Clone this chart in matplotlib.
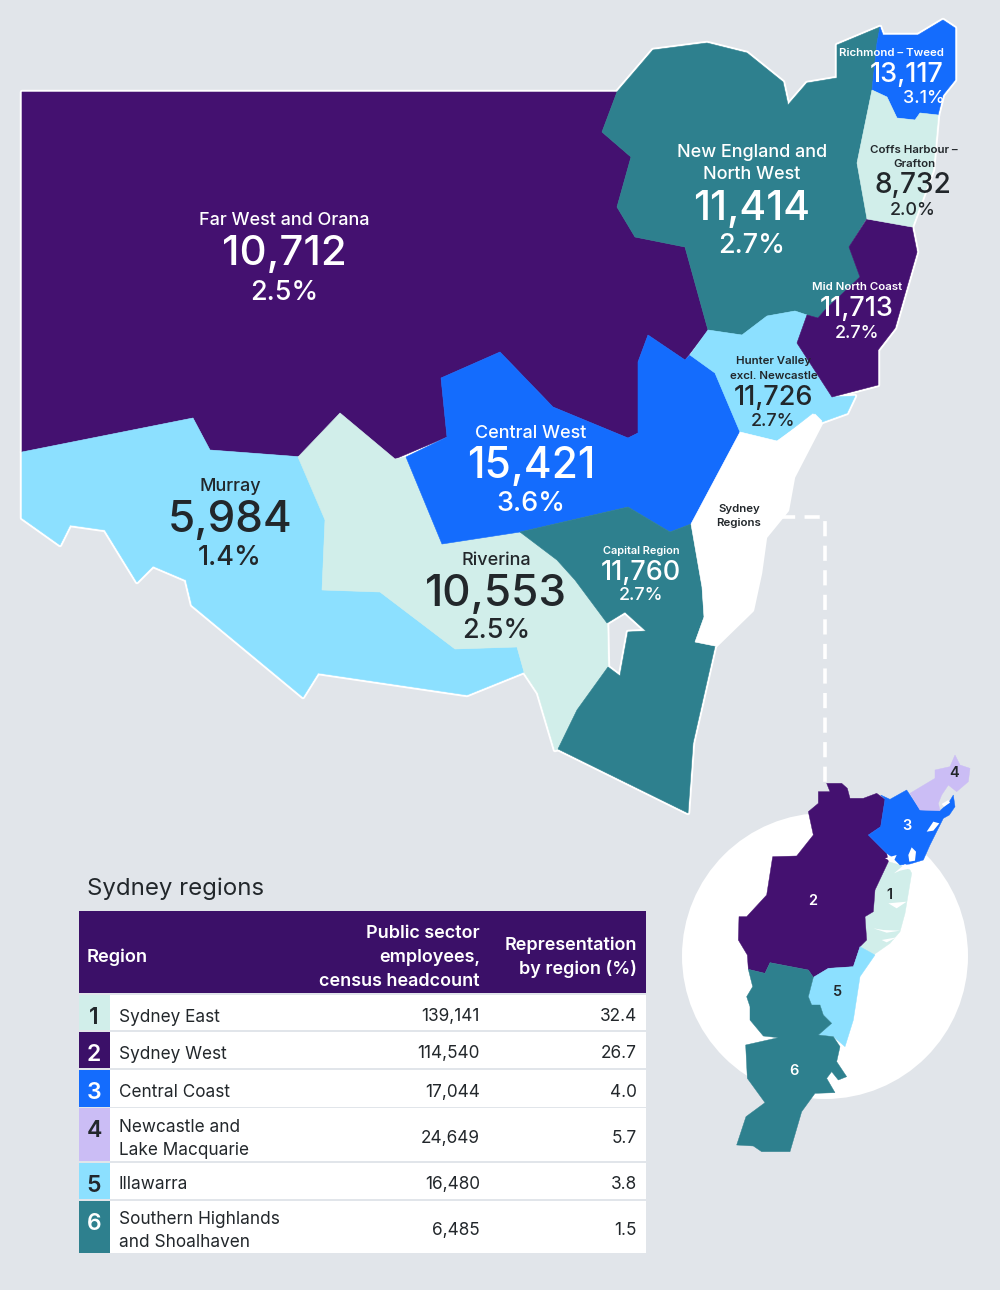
import matplotlib
matplotlib.use("Agg")
import matplotlib.pyplot as plt
from matplotlib.patches import Polygon, Rectangle, Circle

plt.rcParams['font.family'] = ['Inter', 'DejaVu Sans']

BG = '#E1E5EA'; PURPLE = '#441170'; BLUE = '#146CFD'; TEAL = '#2E808E'
MINT = '#D1EEEA'; SKY = '#8CE0FF'; LILAC = '#CBBDF5'; HEAD = '#3B1068'; INK = '#22272B'

# ---- data ----
region_names = ['Far West and Orana', 'Murray', 'Central West', 'Riverina', 'Capital Region',
                'New England and\nNorth West', 'Richmond – Tweed', 'Coffs Harbour –\nGrafton',
                'Mid North Coast', 'Hunter Valley\nexcl. Newcastle']
region_values = ['10,712', '5,984', '15,421', '10,553', '11,760', '11,414', '13,117', '8,732', '11,713', '11,726']
region_shares = ['2.5%', '1.4%', '3.6%', '2.5%', '2.7%', '2.7%', '3.1%', '2.0%', '2.7%', '2.7%']

sydney_ids = ['1', '2', '3', '4', '5', '6']
sydney_names = ['Sydney East', 'Sydney West', 'Central Coast', 'Newcastle and\nLake Macquarie',
                'Illawarra', 'Southern Highlands\nand Shoalhaven']
sydney_values = ['139,141', '114,540', '17,044', '24,649', '16,480', '6,485']
sydney_shares = ['32.4', '26.7', '4.0', '5.7', '3.8', '1.5']
sydney_colors = [MINT, HEAD, BLUE, LILAC, SKY, TEAL]
sydney_num_colors = [INK, 'white', 'white', INK, INK, 'white']

# ---- region outlines (geography, in picture pixels) ----
far_west = [(22,92),(617,92),(602,132),(631,157),(617,207),(635,237),(685,247),(708,330),(685,360),(648,335),
            (638,362),(638,433),(628,438),(553,407),(500,352),(441,378),(447,437),(395,459),(340,413),(303,457),
            (210,450),(193,418),(22,452)]
new_england = [(617,92),(653,50),(707,43),(747,53),(783,82),(788,105),(807,83),(837,78),(837,45),(880,27),(877,43),
               (872,90),(857,163),(867,218),(849,247),(860,277),(825,310),(818,318),(807,315),(795,311),(767,316),
               (742,335),(708,330),(685,247),(635,237),(617,207),(631,157),(602,132)]
central_west = [(500,352),(441,378),(447,437),(406,457),(442,544),(520,532),(628,507),(670,532),(691,524),(740,432),
                (715,373),(690,355),(685,360),(648,335),(638,362),(638,433),(628,438),(553,407)]
hunter = [(708,330),(742,335),(767,316),(795,311),(807,315),(797,343),(832,397),(855,396),(847,413),(822,422),
          (813,413),(777,441),(740,432),(715,373),(690,355)]
mid_north = [(867,219),(912,227),(917,252),(895,328),(878,350),(878,385),(832,397),(797,343),(807,315),(818,318),
             (825,310),(860,277),(849,247)]
richmond = [(880,27),(883,35),(918,35),(943,20),(955,28),(955,80),(943,95),(938,115),(920,113),(915,120),(897,118),
            (887,97),(872,90),(877,43)]
coffs = [(872,90),(887,97),(897,118),(915,120),(920,113),(938,115),(933,170),(912,227),(867,219),(857,163)]
sydney_reg = [(740,432),(777,441),(815,414),(822,421),(793,477),(787,510),(765,537),(760,573),(752,610),(715,646),
              (695,642),(704,617),(702,587),(691,524)]
capital = [(520,532),(628,507),(670,532),(691,524),(702,587),(704,617),(695,642),(715,646),(693,743),(688,813),
           (558,749),(577,710),(608,667),(620,676),(628,632),(646,631),(625,612),(607,623),(575,580),(557,560)]
riverina = [(340,413),(395,459),(406,457),(442,544),(520,532),(557,560),(575,580),(607,623),(608,667),(577,710),
            (558,749),(555,750),(538,693),(524,672),(517,647),(455,649),(380,592),(322,590),(325,520),(298,457)]
murray = [(22,452),(193,418),(210,450),(303,457),(325,520),(322,590),(380,592),(455,649),(517,647),(524,672),(467,695),
          (318,673),(303,697),(192,605),(186,580),(153,566),(137,582),(105,530),(70,525),(60,545),(22,518)]
main_map = [(far_west,PURPLE),(murray,SKY),(riverina,MINT),(central_west,BLUE),(capital,TEAL),(new_england,TEAL),
            (hunter,SKY),(mid_north,PURPLE),(richmond,BLUE),(coffs,MINT),(sydney_reg,'white')]

# Sydney inset outlines (zoomed picture units)
s2 = [(470,130),(515,130),(532,145),(540,175),(580,175),(620,160),(645,178),(632,260),(595,285),(650,340),(655,365),
      (615,450),(610,515),(585,530),(590,600),(570,620),(550,680),(475,685),(430,712),(415,690),(300,668),(285,700),
      (235,688),(232,645),(205,600),(207,530),(230,530),(290,465),(308,350),(380,348),(430,285),(415,215),(445,190),
      (445,155),(480,155)]
s3 = [(632,165),(660,178),(710,150),(750,210),(810,212),(835,190),(850,165),(855,200),(838,225),(820,235),(780,315),
      (760,360),(720,372),(690,375),(665,350),(650,340),(595,285),(632,260),(645,178)]
s4 = [(720,160),(795,115),(795,90),(840,80),(855,45),(870,75),(900,85),(895,125),(860,155),(835,135),(815,165),
      (805,190),(810,212),(750,210)]
s1 = [(655,365),(690,375),(720,390),(725,400),(705,520),(690,575),(660,610),(610,645),(570,620),(590,600),(585,530),
      (610,515),(615,450)]
s5 = [(570,620),(615,645),(570,710),(550,840),(525,920),(490,890),(445,885),(485,850),(460,825),(450,795),(425,795),
      (415,770),(430,712),(475,685),(550,680)]
s6 = [(235,688),(285,700),(300,668),(415,690),(430,712),(415,770),(425,795),(450,795),(460,825),(485,850),(445,885),
      (490,890),(510,920),(500,965),(530,1010),(505,1020),(485,995),(470,1015),(495,1058),(435,1060),(395,1115),
      (360,1235),(275,1235),(250,1218),(200,1215),(228,1130),(285,1088),(232,1015),(227,915),(325,893),(280,888),
      (240,840),(240,800),(230,770),(248,740)]
inset_map = [(s1,MINT),(s2,PURPLE),(s3,BLUE),(s4,LILAC),(s5,SKY),(s6,TEAL)]
inset_gaps = [[(770,275),(790,245),(808,250),(790,272)],
              [(715,345),(725,322),(738,335),(735,362),(718,365)],
              [(645,355),(680,345),(672,362),(660,362)],
              [(672,400),(705,372),(722,385),(690,392)],
              [(655,490),(710,485),(680,505)],
              [(610,565),(640,570),(690,572),(650,578)],
              [(635,600),(680,592),(650,607)],
              [(815,192),(835,180),(840,188),(822,200)]]

fig = plt.figure(figsize=(10, 12.9), dpi=100, facecolor=BG)
ax = fig.add_axes([0, 0, 1, 1])
ax.set_xlim(0, 1000); ax.set_ylim(1290, 0); ax.axis('off')

def label(x, y, s, size, color, weight='normal', ha='center'):
    ax.text(x, y + 1 + size * 0.07, s, color=color, fontsize=size * 0.72, fontweight=weight,
            ha=ha, va='center', zorder=6)

# main map
for pts, col in main_map:
    ax.add_patch(Polygon(pts, closed=True, fc='white', ec='white', lw=3.2, joinstyle='round', zorder=2))
for pts, col in main_map:
    ax.add_patch(Polygon(pts, closed=True, fc=col, ec=col, lw=0.4, zorder=3))

# dashed connector
ax.plot([780, 825, 825], [517, 517, 790], color='white', lw=2.6, ls=(0, (4.2, 2.6)), zorder=2)

# inset
ax.add_patch(Circle((825, 956), 143, fc='white', ec='none', zorder=2))
def tr(p):
    return [(670 + x / 3, 740 + y / 3) for x, y in p]
for pts, col in inset_map:
    ax.add_patch(Polygon(tr(pts), closed=True, fc=col, ec=col, lw=0.3, zorder=3))
for pts in inset_gaps:
    ax.add_patch(Polygon(tr(pts), closed=True, fc='white', ec='none', zorder=4))
inset_xy = [(889, 894), (813, 900), (907, 825), (954, 772), (838, 991), (794, 1070)]
for s, (x, y), c in zip(sydney_ids, inset_xy, sydney_num_colors):
    label(x, y - 1, s, 14.5, c, 'semibold')

# main-map labels: x, name y's, value y, share y, sizes, colour, (value x, share x)
layout = [
    (284, [218], 250, 290, 18, 42, 27, 'white', (284, 284)),
    (230, [484], 516, 555, 18, 44, 27, INK, (230, 230)),
    (531, [431], 463, 501, 18, 42.5, 27, 'white', (531, 531)),
    (496, [558], 590, 628, 18, 44, 27, INK, (496, 496)),
    (641, [549], 570, 593, 11, 27, 18, 'white', (641, 641)),
    (752, [150, 172], 205, 243, 18, 41, 27, 'white', (752, 752)),
    (891, [51], 72, 96, 11.5, 27, 18, 'white', (907, 924)),
    (914, [148, 162], 183, 208, 11.5, 28, 18, INK, (913, 913)),
    (857, [285], 306, 331, 11.5, 27, 18, 'white', (857, 857)),
    (774, [359, 374], 395, 419, 11.5, 27, 18, INK, (773, 773)),
]
for name, val, sh, (x, ys, vy, sy, s1_, s2_, s3_, c, (vx, sx)) in zip(region_names, region_values, region_shares, layout):
    w = 'semibold' if s1_ < 15 else 'medium'
    for line, y in zip(name.split('\n'), ys):
        label(x, y, line, s1_, c, w)
    label(vx, vy, val, s2_, c, 'medium')
    label(sx, sy, sh, s3_, c, 'medium')
label(739, 507, 'Sydney', 11.5, INK, 'semibold')
label(739, 521, 'Regions', 11.5, INK, 'semibold')

# table
label(87, 886, 'Sydney regions', 24, INK, 'normal', 'left')
ax.add_patch(Rectangle((79, 911), 567, 82, fc=HEAD, ec='none', zorder=3))
label(87, 955, 'Region', 18.3, 'white', 'semibold', 'left')
for t, y in zip(['Public sector', 'employees,', 'census headcount'], [931, 955, 979]):
    label(480, y, t, 18, 'white', 'semibold', 'right')
for t, y in zip(['Representation', 'by region (%)'], [943, 967]):
    label(637, y, t, 18, 'white', 'semibold', 'right')

row_spans = [(995, 1030), (1032, 1068), (1070, 1107), (1108, 1161), (1163, 1199), (1201, 1253)]
num_y = [1015, 1052, 1090, 1128, 1183, 1221]
name_y = [[1015], [1052], [1090], [1125, 1148], [1182], [1217, 1240]]
for i, (y0, y1) in enumerate(row_spans):
    ax.add_patch(Rectangle((79, y0), 567, y1 - y0, fc='white', ec='none', zorder=3))
    ax.add_patch(Rectangle((79, y0), 31, y1 - y0, fc=sydney_colors[i], ec='none', zorder=4))
    label(94, num_y[i], sydney_ids[i], 23, sydney_num_colors[i], 'semibold')
    for line, y in zip(sydney_names[i].split('\n'), name_y[i]):
        label(119, y, line, 17.2, INK, 'normal', 'left')
    cy = (y0 + y1) / 2 + 1.5
    label(480, cy, sydney_values[i], 17.2, INK, 'normal', 'right')
    label(637, cy, sydney_shares[i], 17.2, INK, 'normal', 'right')

fig.savefig('out.png', dpi=100, facecolor=BG)
